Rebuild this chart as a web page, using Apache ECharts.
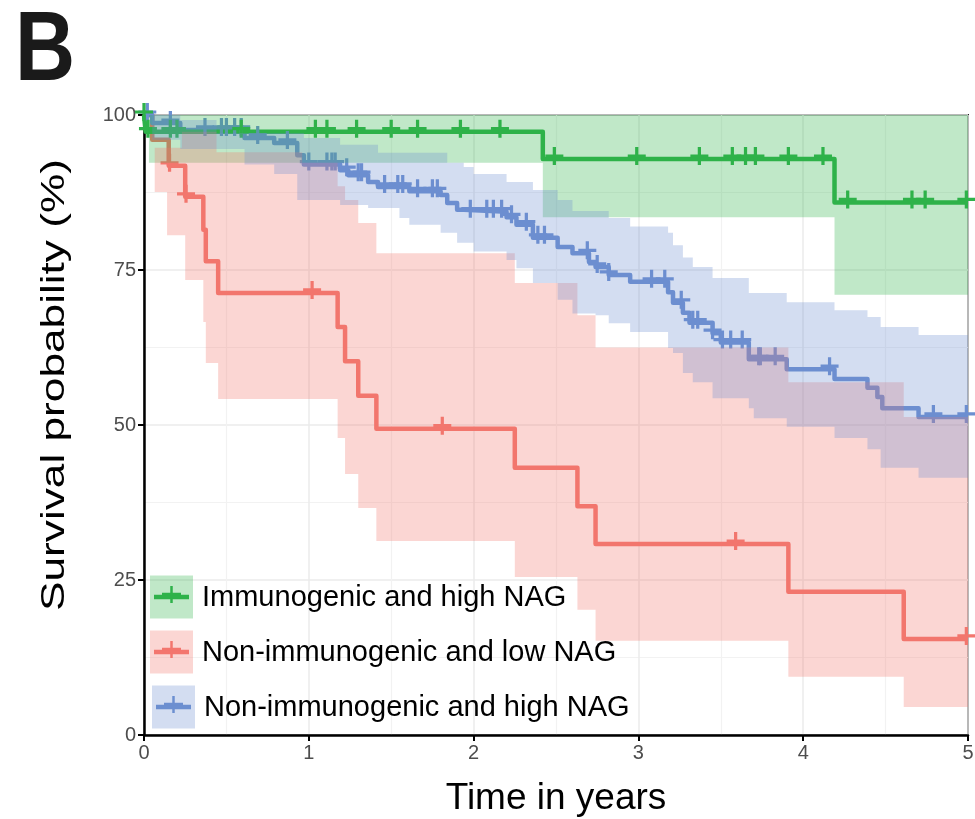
<!DOCTYPE html>
<html>
<head>
<meta charset="utf-8">
<script src="https://cdn.jsdelivr.net/npm/echarts@6/dist/echarts.min.js"></script>
<style>
  html, body { margin: 0; padding: 0; background: #fff; }
  #chart { width: 975px; height: 819px; }
</style>
</head>
<body>
<div id="chart"></div>
<script>
// Kaplan-Meier steps (time in years, survival in %)
const greenTime = [0, 0.01, 2.42, 4.19];
const greenSurv = [100, 97.3, 92.9, 85.9];
const greenCensor = [0, 0.024, 0.16, 0.20, 0.59, 1.04, 1.11, 1.29, 1.50, 1.66, 1.92, 2.16,
  2.49, 2.99, 3.37, 3.57, 3.65, 3.71, 3.91, 4.12, 4.27, 4.66, 4.74, 4.99];
const greenBandTime = [0, 0.03, 2.42, 4.19];
const greenBandLow = [100, 92.3, 83.5, 71.0];
const greenBandHigh = [100, 100, 100, 100];

const redTime = [0, 0.05, 0.15, 0.25, 0.36, 0.375, 0.45, 1.175, 1.22, 1.30, 1.41, 2.25, 2.63, 2.74, 3.91, 4.61];
const redSurv = [100, 96.0, 91.8, 86.8, 81.5, 76.4, 71.3, 65.8, 60.3, 54.7, 49.4, 43.1, 36.9, 30.8, 23.1, 15.5];
const redCensor = [0.155, 0.255, 1.02, 1.81, 3.59, 4.99];
const redBandTime = [0, 0.065, 0.14, 0.23, 0.25, 0.36, 0.375, 0.44, 0.45, 0.96, 1.175, 1.22, 1.30, 1.41, 2.25, 2.63, 2.74, 3.91, 4.61];
const redBandLow = [100, 87.6, 80.6, 80.6, 73.4, 66.6, 60.0, 60.0, 54.2, 54.2, 47.9, 42.1, 36.6, 31.3, 25.5, 20.2, 15.2, 9.4, 4.5];
const redBandHigh = [100, 94.7, 94.7, 97.3, 97.3, 97.3, 97.3, 94.0, 94.0, 92.3, 88.5, 86.3, 82.6, 77.7, 72.9, 67.7, 62.5, 56.9, 51.3];

const blueTime = [0, 0.05, 0.22, 0.61, 0.79, 0.93, 0.97, 1.19, 1.24, 1.36, 1.42, 1.61, 1.80, 1.84, 1.90, 1.94,
  2.20, 2.26, 2.36, 2.51, 2.60, 2.70, 2.74, 2.82, 2.95, 3.18, 3.21, 3.27, 3.31, 3.45, 3.50, 3.67, 3.90,
  4.19, 4.39, 4.45, 4.48, 4.70];
const blueSurv = [100, 98.7, 97.6, 96.3, 95.5, 93.5, 92.0, 91.1, 90.3, 89.2, 88.4, 87.7, 87.1, 85.8, 84.7, 84.4,
  83.5, 82.3, 80.2, 78.7, 77.7, 76.3, 75.5, 74.2, 73.1, 71.4, 69.7, 68.1, 66.5, 64.8, 63.3, 60.6, 59.0,
  57.4, 56.0, 54.5, 52.7, 51.3];
const blueCensor = [0.02, 0.16, 0.37, 0.47, 0.50, 0.55, 0.59, 0.69, 0.87, 1.00, 1.11, 1.14, 1.16, 1.23, 1.30, 1.32,
  1.46, 1.54, 1.57, 1.66, 1.75, 1.78, 1.98, 2.08, 2.12, 2.17, 2.23, 2.32, 2.39, 2.43, 2.69, 2.75, 2.82,
  3.08, 3.16, 3.26, 3.33, 3.36, 3.45, 3.51, 3.56, 3.63, 3.73, 3.74, 3.83, 4.16, 4.79, 4.99];
const blueBandTime = [0, 0.05, 0.22, 0.44, 0.61, 0.79, 0.93, 0.97, 1.19, 1.36, 1.42, 1.55, 1.61, 1.80, 1.84, 1.90, 1.94,
  2.0, 2.20, 2.26, 2.36, 2.51, 2.60, 2.74, 2.82, 2.95, 3.18, 3.21, 3.27, 3.33, 3.45, 3.67, 3.70, 3.90,
  4.19, 4.39, 4.47, 4.70];
const blueBandLow = [100, 96.0, 94.5, 94.5, 92.0, 90.5, 86.3, 86.3, 85.5, 85.0, 85.0, 83.4, 82.3, 81.0, 81.0, 79.4, 79.4,
  78.0, 76.6, 75.3, 72.9, 70.2, 68.0, 67.7, 66.4, 65.0, 62.4, 61.6, 58.4, 56.9, 54.3, 52.7, 51.1, 49.7,
  47.9, 46.1, 43.1, 41.5];
const blueBandHigh = [100, 100, 99.2, 97.1, 97.1, 97.1, 97.1, 96.3, 95.2, 95.2, 93.9, 93.9, 93.9, 93.9, 92.3, 92.3, 91.6,
  90.5, 89.2, 89.2, 87.9, 86.3, 84.5, 84.5, 83.4, 82.0, 81.0, 79.0, 77.0, 75.5, 73.7, 71.3, 71.3, 69.8,
  68.5, 67.4, 65.8, 64.5];

const legendNames = ['Immunogenic and high NAG', 'Non-immunogenic and low NAG', 'Non-immunogenic and high NAG'];
const xTicks = [0, 1, 2, 3, 4, 5];
const yTicks = [0, 25, 50, 75, 100];

const X_MAX = 5;
const GREEN = '#2EB24A', RED = '#F3766E', BLUE = '#6C8FD0';
const BAND_ALPHA = 0.3;
const FONT = 'Liberation Sans, Arial, Helvetica, sans-serif';
const PLUS = 'path://M41,0H59V41H100V59H59V100H41V59H0V41H41Z';

function rgba(hex, a) {
  const n = parseInt(hex.slice(1), 16);
  return 'rgba(' + (n >> 16) + ',' + ((n >> 8) & 255) + ',' + (n & 255) + ',' + a + ')';
}

function survAt(times, surv, t) {
  let s = surv[0];
  for (let i = 0; i < times.length; i++) if (times[i] <= t) s = surv[i];
  return s;
}

function stepLine(name, times, surv, color) {
  const data = times.map((t, i) => [t, surv[i]]);
  data.push([X_MAX, surv[surv.length - 1]]);
  return {
    name, type: 'line', step: 'end', data, symbol: 'none', z: 2,
    lineStyle: { color, width: 4.5, join: 'round' }, silent: true
  };
}

function censorMarks(name, times, surv, censor, color) {
  return {
    name, type: 'scatter', symbol: PLUS, symbolSize: 18, symbolOffset: [0, -3], z: 2, silent: true,
    itemStyle: { color, opacity: 1 },
    data: censor.map(t => [t, survAt(times, surv, t)])
  };
}

// confidence band: one polygon through the axis coordinates
function band(name, times, low, high, color) {
  const data = times.map((t, i) => [t, low[i], high[i]]);
  return {
    name, type: 'custom', z: 4, silent: true, clip: true,
    encode: { x: 0, y: [1, 2] },
    data,
    renderItem(params, api) {
      if (params.dataIndex !== 0) return null;
      const top = [], bottom = [];
      for (let i = 0; i < data.length; i++) {
        const t0 = data[i][0];
        const t1 = i + 1 < data.length ? data[i + 1][0] : X_MAX;
        top.push(api.coord([t0, data[i][2]]), api.coord([t1, data[i][2]]));
        bottom.push(api.coord([t0, data[i][1]]), api.coord([t1, data[i][1]]));
      }
      return {
        type: 'polygon',
        shape: { points: top.concat(bottom.reverse()) },
        style: { fill: rgba(color, BAND_ALPHA), stroke: null }
      };
    }
  };
}

// legend keys drawn like the ggplot keys (shaded box + line + plus), panel letter, y title
function overlayGraphics() {
  const items = [
    { x: 150, cy: 597, color: GREEN },
    { x: 150, cy: 652, color: RED },
    { x: 152, cy: 707, color: BLUE }
  ];
  const els = [];
  items.forEach((it, i) => {
    els.push({ type: 'rect', z: 100, shape: { x: it.x, y: it.cy - 21.5, width: 43, height: 43 },
      style: { fill: rgba(it.color, BAND_ALPHA) } });
    els.push({ type: 'line', z: 101, shape: { x1: it.x + 4, y1: it.cy, x2: it.x + 39, y2: it.cy },
      style: { stroke: it.color, lineWidth: 4.5 } });
    els.push({ type: 'line', z: 101, shape: { x1: it.x + 21.5, y1: it.cy - 11, x2: it.x + 21.5, y2: it.cy + 6 },
      style: { stroke: it.color, lineWidth: 2.5 } });
    els.push({ type: 'line', z: 101, shape: { x1: it.x + 12, y1: it.cy - 3, x2: it.x + 31, y2: it.cy - 3 },
      style: { stroke: it.color, lineWidth: 2.5 } });
    els.push({ type: 'text', z: 101, x: it.x + 52, y: it.cy + 1,
      style: { text: legendNames[i], fill: '#000', font: '29px ' + FONT,
        textAlign: 'left', textVerticalAlign: 'middle' } });
  });
  els.push({ type: 'text', left: 15, top: 4, scaleX: 0.85, z: 100,
    style: { text: 'B', fill: '#1a1a1a', font: 'bold 98px ' + FONT } });
  els.push({ type: 'text', x: 55, y: 385, rotation: Math.PI / 2, scaleX: 1.3, z: 100,
    style: { text: 'Survival probability (%)', fill: '#000', font: '34px ' + FONT,
      textAlign: 'center', textVerticalAlign: 'middle' } });
  return els;
}

const chart = echarts.init(document.getElementById('chart'), null, { renderer: 'canvas' });
chart.setOption({
  animation: false,
  backgroundColor: '#fff',
  grid: { left: 144, right: 7, top: 115, bottom: 84, show: true, borderColor: '#222', borderWidth: 2,
    backgroundColor: 'transparent', containLabel: false, outerBoundsMode: 'none' },
  xAxis: {
    type: 'value', min: 0, max: X_MAX, interval: 1,
    name: 'Time in years', nameLocation: 'middle', nameGap: 45,
    nameTextStyle: { fontSize: 37, color: '#000', fontFamily: FONT, verticalAlign: 'top' },
    axisLine: { lineStyle: { color: '#000', width: 2.5 } },
    axisTick: { show: true, length: 6, lineStyle: { color: '#000', width: 2 } },
    axisLabel: { fontSize: 20, color: '#4D4D4D', fontFamily: FONT, margin: 8,
      formatter: v => xTicks.includes(v) ? String(v) : '' },
    splitLine: { show: true, lineStyle: { color: '#EBEBEB', width: 1.5 } },
    minorTick: { show: false, splitNumber: 2 },
    minorSplitLine: { show: true, lineStyle: { color: '#F2F2F2', width: 1.2 } }
  },
  yAxis: {
    type: 'value', min: 0, max: 100, interval: 25,
    axisLine: { show: true, lineStyle: { color: '#000', width: 2.5 } },
    axisTick: { show: true, length: 6, lineStyle: { color: '#000', width: 2 } },
    axisLabel: { fontSize: 20, color: '#4D4D4D', fontFamily: FONT, margin: 8,
      formatter: v => yTicks.includes(v) ? String(v) : '' },
    splitLine: { show: true, lineStyle: { color: '#EBEBEB', width: 1.5 } },
    minorTick: { show: false, splitNumber: 2 },
    minorSplitLine: { show: true, lineStyle: { color: '#F2F2F2', width: 1.2 } }
  },
  graphic: overlayGraphics(),
  series: [
    stepLine(legendNames[1], redTime, redSurv, RED),
    stepLine(legendNames[2], blueTime, blueSurv, BLUE),
    stepLine(legendNames[0], greenTime, greenSurv, GREEN),
    censorMarks(legendNames[1], redTime, redSurv, redCensor, RED),
    censorMarks(legendNames[2], blueTime, blueSurv, blueCensor, BLUE),
    censorMarks(legendNames[0], greenTime, greenSurv, greenCensor, GREEN),
    band(legendNames[0], greenBandTime, greenBandLow, greenBandHigh, GREEN),
    band(legendNames[1], redBandTime, redBandLow, redBandHigh, RED),
    band(legendNames[2], blueBandTime, blueBandLow, blueBandHigh, BLUE)
  ]
});
</script>
</body>
</html>
